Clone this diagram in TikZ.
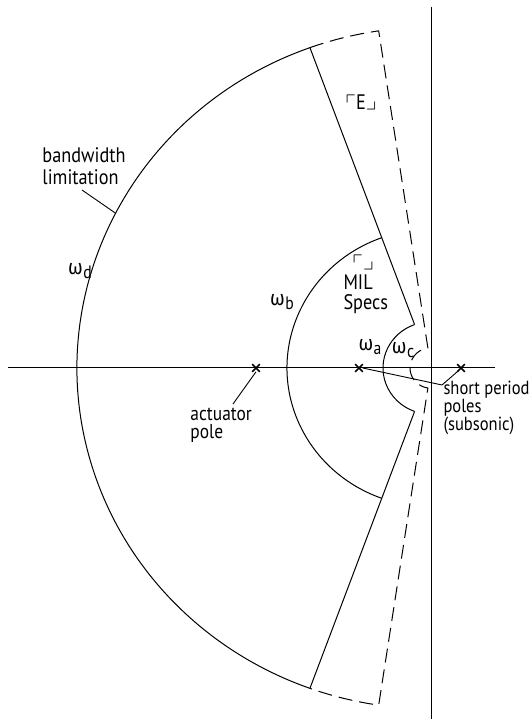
\documentclass[tikz,border=0pt]{standalone}
\usepackage{amssymb}
\usepackage{fontspec}
\setmainfont{PT Sans}[FakeStretch=0.87]
\newfontfamily\grk{Fira Sans}[FakeStretch=0.9]
\usetikzlibrary{shapes.misc}
\newcommand{\omsub}[1]{{\grk ω}\kern0.5pt\raisebox{-0.35ex}{\fontsize{18}{18}\selectfont #1}}
\begin{document}
\begin{tikzpicture}[x=1pt,y=1pt,line width=1pt,
  dashline/.style={dash pattern=on 14pt off 7pt},
  lbl/.style={font=\fontsize{21}{21}\selectfont,inner sep=0pt,align=left},
  pole/.style={cross out,draw,minimum size=6pt,inner sep=0pt,line width=1.6pt},
  leader/.style={line width=0.9pt}]
\useasboundingbox (-431,-351) rectangle (100,368);
% axes
\coordinate (O) at (0,0);
\coordinate (imtop) at (0,361);
\coordinate (imbot) at (0,-351);
\coordinate (releft) at (-423,0);
\coordinate (reright) at (64,0);
\draw (imtop) -- (imbot);
\draw (releft) -- (reright);
\begin{scope}[yscale=0.963]
% solid boundary
\coordinate (dT) at (110:354);
\coordinate (dB) at (250:354);
\coordinate (aT) at (110:48);
\coordinate (aB) at (250:48);
\coordinate (bT) at (110:144);
\coordinate (bwend) at (153:354);
\draw (dT) arc[start angle=110,end angle=250,radius=354];
\draw (aT) -- (dT);
\draw (aB) -- (dB);
\draw (bT) arc[start angle=110,end angle=250,radius=144];
\draw (aT) arc[start angle=110,end angle=250,radius=48];
% dashed boundary
\draw[dashline] (dT) arc[start angle=110,end angle=98.5,radius=354]
  -- (98.5:21) arc[start angle=98.5,end angle=261.5,radius=21]
  -- (261.5:354) arc[start angle=261.5,end angle=250,radius=354];
\end{scope}
% poles
\node[pole] (pA) at (-175,0) {};
\node[pole] (pB) at (-72,0) {};
\node[pole] (pC) at (30,0) {};
% labels
\node[lbl,anchor=center] (wd) at (-351,97) {\omsub{d}};
\node[lbl,anchor=center] (wb) at (-149,66) {\omsub{b}};
\node[lbl,anchor=center] (wa) at (-61,21) {\omsub{a}};
\node[lbl,anchor=center] (wc) at (-28,18) {\omsub{c}};
\node[lbl,anchor=base] (rE) at (-70,258) {$\ulcorner$E$\lrcorner$};
\node[lbl,anchor=base] (rJ) at (-68,98) {$\ulcorner\lrcorner$};
\node[lbl,anchor=base west,font=\fontsize{21}{20}\selectfont] (mil) at (-88,58) {MIL\\Specs};
\node[lbl,anchor=base west,font=\fontsize{21}{22}\selectfont] (bw) at (-389,183) {bandwidth\\limitation};
\node[lbl,anchor=base west,font=\fontsize{20}{18.5}\selectfont] (act) at (-241,-71) {actuator\\pole};
\node[lbl,anchor=base west,font=\fontsize{19}{16.5}\selectfont] (sp) at (12,-63) {short period\\poles\\(subsonic)};
% leaders
\coordinate (bwstart) at (-349,178);
\draw[leader] (bwstart) -- (bwend);
\coordinate (actstart) at (-198,-36);
\draw[leader] (actstart) -- (pA.south);
\coordinate (spk) at (11,-17);
\draw[leader] (pB.east) -- (spk) -- (pC.south west);
\end{tikzpicture}
\end{document}
